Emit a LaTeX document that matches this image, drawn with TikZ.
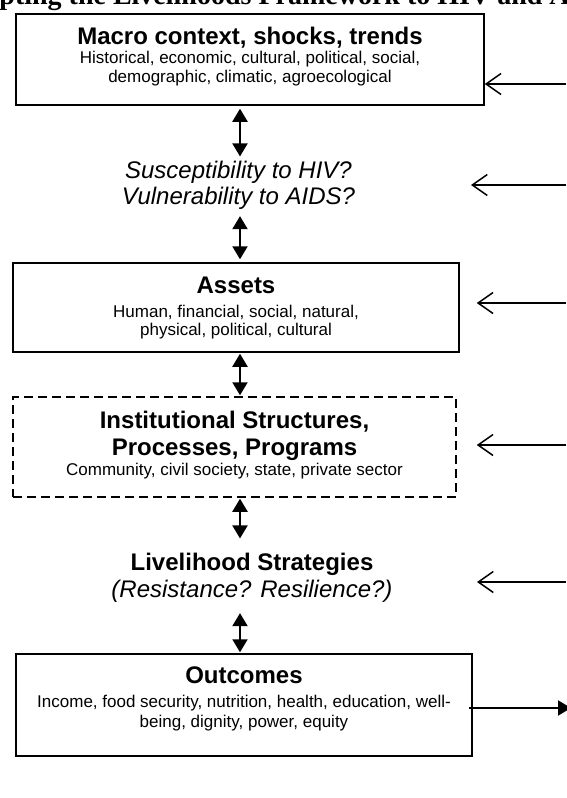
\documentclass[tikz,border=0pt]{standalone}
\usepackage{fontspec}
\setmainfont{Liberation Sans}
\newfontfamily\titlefont{Liberation Serif}
\usetikzlibrary{arrows.meta}

\begin{document}
\begin{tikzpicture}[x=1pt,y=-1pt,
  framebox/.style={draw, rectangle, line width=1.5pt, inner sep=0pt},
  dashbox/.style={framebox, dash pattern=on 9pt off 5pt},
  heading/.style={anchor=base, inner sep=0pt, font=\bfseries\fontsize{24}{28}\selectfont},
  subline/.style={anchor=base, inner sep=0pt, font=\fontsize{17}{20}\selectfont},
  question/.style={anchor=base, inner sep=0pt, font=\itshape\fontsize{24}{28}\selectfont},
  twoway/.style={line width=2pt, {Triangle[length=13pt,width=15pt]}-{Triangle[length=13pt,width=15pt]}},
  feed/.style={line width=1.5pt, -{Straight Barb[length=15pt,width=21pt]}},
  outflow/.style={line width=2pt, -{Triangle[length=13pt,width=15pt]}}
]
\useasboundingbox (0,0) rectangle (566,798);

% title line across the top
\node[anchor=base, inner sep=0pt, font=\titlefont\bfseries\fontsize{28}{32}\selectfont]
  (title) at (283,4) {Adapting the Livelihoods Framework to HIV and AIDS};

% macro context box
\node[framebox, minimum width=468pt, minimum height=91pt] (macro) at (250,59.5) {};
\node[heading] (macroH) at (250,44) {Macro context, shocks, trends};
\node[subline] (macroA) at (250,63) {Historical, economic, cultural, political, social,};
\node[subline] (macroB) at (250,82) {demographic, climatic, agroecological};

% susceptibility questions
\node[question] (suscA) at (238.5,178) {Susceptibility to HIV?};
\node[question] (suscB) at (238.5,204) {Vulnerability to AIDS?};

% assets box
\node[framebox, minimum width=446pt, minimum height=89pt] (assets) at (236,307.5) {};
\node[heading] (assetsH) at (236,293) {Assets};
\node[subline] (assetsA) at (236,317) {Human, financial, social, natural,};
\node[subline] (assetsB) at (236,335) {physical, political, cultural};

% institutions box (dashed)
\node[dashbox, minimum width=443pt, minimum height=100pt] (inst) at (234.5,447) {};
\node[heading] (instH) at (234.5,428) {Institutional Structures,};
\node[heading] (instH2) at (234.5,455) {Processes, Programs};
\node[subline] (instA) at (234.5,475) {Community, civil society, state, private sector};

% livelihood strategies
\node[heading] (stratA) at (252,570) {Livelihood Strategies};
\node[question] (stratB) at (252,597) {(Resistance? Resilience?)};

% outcomes box
\node[framebox, minimum width=456pt, minimum height=102pt] (outc) at (244,705) {};
\node[heading] (outcH) at (244,683) {Outcomes};
\node[subline] (outcA) at (244,707) {Income, food security, nutrition, health, education, well-};
\node[subline] (outcB) at (244,727) {being, dignity, power, equity};

% central column of two-way links
\coordinate (col) at (240,0);
\draw[twoway, shorten <=3pt, shorten >=4pt] (macro.south -| col) -- (suscA.north -| col);
\draw[twoway, shorten <=7pt, shorten >=3pt] (suscB.south -| col) -- (assets.north -| col);
\draw[twoway, shorten <=1pt, shorten >=1pt] (assets.south -| col) -- (inst.north -| col);
\draw[twoway, shorten <=1pt, shorten >=14pt] (inst.south -| col) -- (stratA.north -| col);
\draw[twoway, shorten <=11pt, shorten >=1pt] (stratB.south -| col) -- (outc.north -| col);

% incoming influences from the right margin
\coordinate (in1) at (566,84);
\coordinate (in2) at (566,185);
\coordinate (tip2) at (471,185);
\coordinate (in3) at (566,303);
\coordinate (in4) at (566,445);
\coordinate (in5) at (566,582);
\coordinate (tip5) at (477,582);
\draw[feed] (in1) -- (macro.east |- in1);
\draw[feed] (in2) -- (tip2);
\draw[feed, shorten >=17pt] (in3) -- (assets.east |- in3);
\draw[feed, shorten >=20pt] (in4) -- (inst.east |- in4);
\draw[feed] (in5) -- (tip5);

% outcomes lead out past the right margin
\coordinate (out) at (571,708);
\draw[outflow, shorten <=-4pt] (outc.east |- out) -- (out);
\end{tikzpicture}
\end{document}
